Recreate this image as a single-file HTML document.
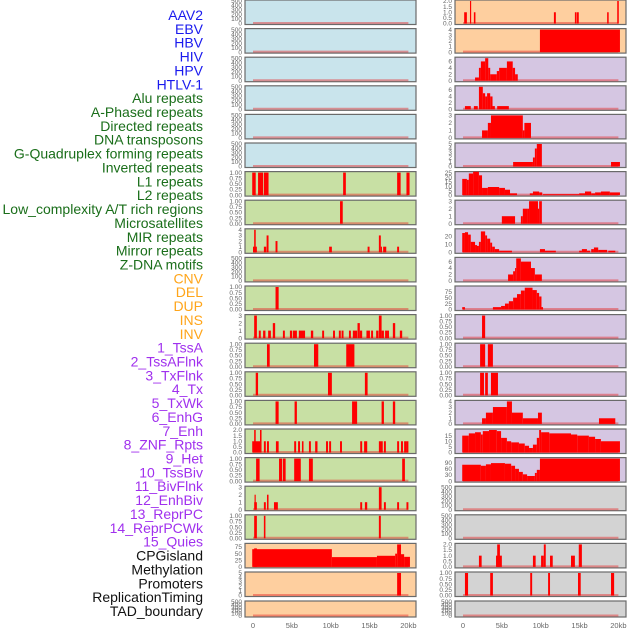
<!DOCTYPE html>
<html><head><meta charset="utf-8"><style>
body{margin:0;background:#fff;width:630px;height:630px;overflow:hidden}
svg{display:block;font-family:"Liberation Sans",sans-serif}
</style></head><body>
<svg id="chart" width="630" height="630" viewBox="0 0 630 630"></svg>
<script>
const trackLabels=["AAV2","EBV","HBV","HIV","HPV","HTLV-1","Alu repeats","A-Phased repeats","Directed repeats","DNA transposons","G-Quadruplex forming repeats","Inverted repeats","L1 repeats","L2 repeats","Low_complexity A/T rich regions","Microsatellites","MIR repeats","Mirror repeats","Z-DNA motifs","CNV","DEL","DUP","INS","INV","1_TssA","2_TssAFlnk","3_TxFlnk","4_Tx","5_TxWk","6_EnhG","7_Enh","8_ZNF_Rpts","9_Het","10_TssBiv","11_BivFlnk","12_EnhBiv","13_ReprPC","14_ReprPCWk","15_Quies","CPGisland","Methylation","Promoters","ReplicationTiming","TAD_boundary"];
const labelGroups=[6,13,5,15,5];
const xTicks=[0,5,10,15,20];
const xTickLabels=["0","5kb","10kb","15kb","20kb"];
// left column data: [startKb,endKb,value]
const L6=[[-0.1,0.35,1],[0.65,1.3,1],[1.4,2.0,1],[11.6,11.95,1],[18.55,19.0,1],[19.75,20.15,1]];
const L7=[[11.2,11.55,1]];
const L8=[[0,0.5,1],[0.15,0.35,4],[1.4,1.7,1],[1.75,2.0,3],[2.9,3.15,2],[9.8,10.15,1],[14.75,15.0,1],[16.2,16.45,3],[16.45,16.6,1],[16.75,17.15,1],[18.55,18.8,1]];
const L10=[[2.9,3.3,1]];
const L11=[[0.15,0.5,3],[0.75,1.0,1],[1.3,1.6,1],[1.95,2.3,1],[2.55,2.85,2],[3.85,4.1,1],[4.75,5.05,1],[5.15,5.65,1],[5.9,6.7,1],[7.45,7.75,1],[8.9,9.15,1],[10.3,10.55,1],[11.05,11.3,1],[11.4,11.65,1],[12.35,12.6,1],[12.85,13.4,1],[13.45,13.75,2],[13.75,14.05,1],[14.6,15.05,1],[15.2,15.45,1],[15.85,16.15,1],[16.2,16.55,3],[16.55,16.85,1],[17.0,17.25,1],[17.25,17.5,1],[18.0,18.3,2],[18.9,19.2,1]];
const L12=[[1.8,2.15,1],[7.85,8.4,1],[12.0,13.05,1]];
const L13=[[0.35,0.65,1],[9.65,10.15,1],[14.4,14.75,1]];
const L14=[[2.9,3.3,1],[5.35,5.65,1],[12.75,13.4,1],[16.55,16.85,1],[18.0,18.3,1]];
const L15=[[-0.1,1.0,1],[0.15,0.35,2],[0.9,1.1,2],[1.4,1.65,1],[1.8,2.05,1],[2.95,3.3,1],[5.3,5.55,1],[5.8,6.05,1],[6.3,6.5,1],[7.2,7.45,1],[8.0,8.3,1],[9.4,9.65,1],[9.8,10.05,1],[11.2,11.45,1],[13.8,14.05,1],[14.3,14.7,1],[16.2,16.7,1],[16.85,17.1,1],[18.55,18.8,1],[19.05,19.3,1],[19.45,19.7,1],[19.7,20.0,1]];
const L16=[[0.4,0.85,1],[3.35,3.75,1],[3.85,4.2,1],[5.3,6.15,1],[7.2,7.7,1],[19.2,19.55,1]];
const L17=[[0.15,0.5,1],[0.2,0.35,2],[1.4,1.65,1],[1.8,2.0,2],[2.7,3.2,1],[13.8,14.05,1],[14.4,14.7,1],[16.2,16.55,3],[16.85,17.1,1],[18.55,18.8,1],[19.75,20.0,1]];
const L18=[[0.15,0.5,1],[1.4,1.6,1],[16.2,16.45,1]];
const L19=[[-0.1,10.15,67],[0.15,0.5,70],[10.15,15.95,37],[15.95,18.3,42],[18.3,18.55,50],[18.55,19.05,85],[19.05,19.45,48],[19.45,20.2,38]];
const L20=[[18.55,19.05,5]];
// right column data
const R0=[[0.15,0.5,1],[0.9,1.05,2],[1.4,1.6,1],[11.7,11.95,1],[14.4,14.6,1],[14.65,14.9,1],[18.55,18.75,1],[19.85,20.05,2]];
const R1=[[9.9,20.2,4]];
const R2=[[1.55,2.05,1],[2.05,2.3,4],[2.3,2.85,6],[2.85,3.25,7],[3.25,3.5,4],[3.5,4.35,2],[4.35,4.65,3],[4.65,5.65,4],[5.65,6.4,6],[6.4,6.7,4],[6.7,7.05,2]];
const R3=[[0.25,1.0,1],[1.4,1.9,1],[2.05,2.55,7],[2.55,2.85,5],[2.85,3.1,4],[3.1,3.5,5],[3.5,3.8,4],[3.8,4.1,1],[4.4,5.9,1]];
const R4=[[2.45,3.2,1],[3.2,3.6,2],[3.6,7.7,3],[7.7,7.9,1],[7.9,8.75,2]];
const R5=[[6.45,9.0,1],[9.0,9.25,2],[9.25,9.5,4],[9.5,10.15,5],[19.05,20.2,1]];
const R6=[[-0.1,0.5,18],[0.5,0.75,17],[0.75,1.3,24],[1.3,2.05,26],[2.05,2.45,22],[2.45,3.2,8],[3.2,4.65,9],[4.65,5.4,8],[5.4,6.05,6],[6.05,6.95,2],[8.6,9.0,2],[9.0,9.8,4],[9.8,10.2,3],[10.3,14.95,1],[14.95,15.7,2],[15.7,16.5,4],[16.5,17.0,2],[17.0,17.75,3],[17.75,18.9,4],[18.9,20.2,3]];
const R7=[[5.0,6.7,1],[7.45,7.7,1],[7.7,8.25,2],[8.25,8.5,2],[8.5,9.65,3],[9.65,9.8,2],[9.8,10.15,3]];
const R8=[[-0.1,0.25,24],[0.25,0.65,25],[0.65,1.0,22],[1.0,1.55,13],[1.55,1.8,9],[1.8,2.05,8],[2.05,2.3,13],[2.3,2.85,26],[2.85,3.1,21],[3.1,3.5,17],[3.5,3.75,12],[3.75,4.1,7],[4.1,4.65,4],[4.65,6.3,2],[9.9,10.55,4],[10.55,11.95,2],[14.95,15.3,2],[15.3,15.95,4],[15.95,16.35,2],[16.5,16.85,4],[16.85,17.4,6],[17.4,18.55,3],[18.7,19.6,2]];
const R9=[[5.8,6.45,2],[6.45,6.7,3],[6.7,6.85,4],[6.85,7.45,7],[7.45,8.75,6],[8.75,9.25,4],[9.25,10.15,2]];
const R10=[[-0.1,0.25,10],[3.85,4.9,10],[4.9,5.4,15],[5.4,5.9,25],[5.9,6.45,35],[6.45,6.95,50],[6.95,7.45,65],[7.45,7.95,80],[7.95,8.95,92],[8.95,9.5,82],[9.5,9.8,70],[9.8,10.1,55],[10.1,10.3,10]];
const R11=[[2.45,2.85,1]];
const R12=[[2.2,2.85,1],[3.2,3.85,1]];
const R13=[[2.2,2.7,1],[2.85,3.2,1],[3.6,4.5,1]];
const R14=[[2.45,2.95,1],[2.95,3.85,2],[3.85,5.65,3],[5.65,6.3,4],[6.3,7.7,2],[7.7,9.65,1],[9.65,10.15,2],[17.5,19.6,1]];
const R15=[[-0.1,0.75,15],[0.75,1.55,17],[1.55,2.3,18],[2.3,2.55,16],[2.55,3.35,19],[3.35,4.35,20],[4.35,4.9,19],[4.9,5.65,13],[5.65,6.2,10],[6.2,7.2,9],[7.2,7.95,8],[7.95,8.5,6],[8.5,9.0,4],[9.0,9.5,7],[9.5,9.8,13],[9.8,10.05,20],[10.05,11.1,18],[11.1,13.9,17],[13.9,14.7,16],[14.7,16.2,15],[16.2,17.0,14],[17.0,17.75,12],[17.75,20.2,10]];
const R16=[[-0.1,2.3,80],[2.3,2.95,75],[2.95,3.6,82],[3.6,5.4,88],[5.4,6.2,85],[6.2,6.7,75],[6.7,7.2,60],[7.2,7.7,45],[7.7,8.25,33],[8.25,9.25,25],[9.25,9.5,40],[9.5,9.9,55],[9.9,20.2,110]];
const R19=[[2.05,2.4,1],[4.25,5.0,1],[4.4,4.75,2],[9.0,9.35,1],[10.05,10.4,1],[10.4,10.65,2],[11.2,11.55,1],[13.9,14.4,1],[14.9,15.3,2]];
const R20=[[0.25,0.65,1],[3.5,3.85,1],[8.65,8.9,1],[10.95,11.2,1],[14.8,15.15,1],[19.05,19.45,1]];
const leftData=[[],[],[],[],[],[],L6,L7,L8,[],L10,L11,L12,L13,L14,L15,L16,L17,L18,L19,L20,[]];
const rightData=[R0,R1,R2,R3,R4,R5,R6,R7,R8,R9,R10,R11,R12,R13,R14,R15,R16,[],[],R19,R20,[]];
const leftMax=[500,500,500,500,500,500,1,1,4,500,1,3,1,1,1,2,1,3,1,85,5,500];
const rightMax=[2,4,7,7,3,5,25,3,28,7,95,1,1,1,4,20,110,500,500,2,1,500];
const leftKind=["b","b","b","b","b","b","g","g","g","g","g","g","g","g","g","g","g","g","g","o","o","o"];
const rightKind=["o","o","p","p","p","p","p","p","p","p","p","p","p","p","p","p","p","x","x","x","x","x"];
const tickSets={500:[0,100,200,300,400,500],1:[0,0.25,0.5,0.75,1],2:[0,0.5,1,1.5,2],3:[0,1,2,3],4:[0,1,2,3,4],5:[0,1,2,3,4,5],7:[0,2,4,6],25:[0,5,10,15,20,25],28:[0,10,20],85:[0,25,50,75],95:[0,25,50,75],20:[0,5,10,15],110:[0,30,60,90]};
const tickDigits={1:2,2:1};

const NS="http://www.w3.org/2000/svg";
const svg=document.getElementById('chart');
function mk(tag,attrs,parent){const e=document.createElementNS(NS,tag);for(const k in attrs)e.setAttribute(k,attrs[k]);(parent||svg).appendChild(e);return e;}
const fills={b:"#c9e4ec",g:"#c8e0a4",o:"#fecf9f",p:"#d5c6e2",x:"#d3d3d3"};
const PITCH=28.6,PW=171,KBPX=7.77;
function panelGeom(i){return i===21?{top:601,h:16}:{top:i*PITCH,h:24.5};}

// labels
const labelColors=["#1a1aee","#1a6e1a","#ffa51a","#a030ee","#111"];
let li=0;
labelGroups.forEach((n,g)=>{for(let k=0;k<n;k++){const t=mk('text',{x:203,y:20+li*13.86,'text-anchor':'end','font-size':14,fill:labelColors[g]});t.textContent=trackLabels[li];

li++;}});

function drawColumn(x0,data,maxes,kinds,side){
  const xs=kb=>x0+8+kb*KBPX;
  data.forEach((segs,i)=>{
    const g=panelGeom(i);
    const grp=mk('g',{});
    
    
    mk('rect',{x:x0,y:g.top,width:PW,height:g.h,fill:fills[kinds[i]],stroke:'#6a6a6a','stroke-width':1.2},grp);
    const max=maxes[i];
    const ys=v=>g.top+g.h-1-v/max*(g.h-2);
    mk('line',{x1:xs(0),x2:xs(20),y1:g.top+g.h-1.5,y2:g.top+g.h-1.5,stroke:'rgba(230,40,40,0.45)','stroke-width':2},grp);
    segs.forEach(s=>{
      const r=mk('rect',{x:xs(s[0]),y:ys(s[2]),width:Math.max(1,xs(s[1])-xs(s[0])),height:ys(0)-ys(s[2]),fill:'#ff0000'},grp);
      
      
    });
    (tickSets[max]||[0,max]).forEach(v=>{
      const t=mk('text',{x:x0-3,y:ys(v)+2.2,'text-anchor':'end','font-size':6.5,fill:'#666'},grp);
      t.textContent=tickDigits[max]!==undefined?v.toFixed(tickDigits[max]):String(v);
      
      
    });
  });
  xTicks.forEach((v,k)=>{const t=mk('text',{x:xs(v),y:628,'text-anchor':'middle','font-size':7.5,fill:'#666'});t.textContent=xTickLabels[k];
    
    });
}
drawColumn(245,leftData,leftMax,leftKind,'left');
drawColumn(455,rightData,rightMax,rightKind,'right');
</script>
</body></html>
